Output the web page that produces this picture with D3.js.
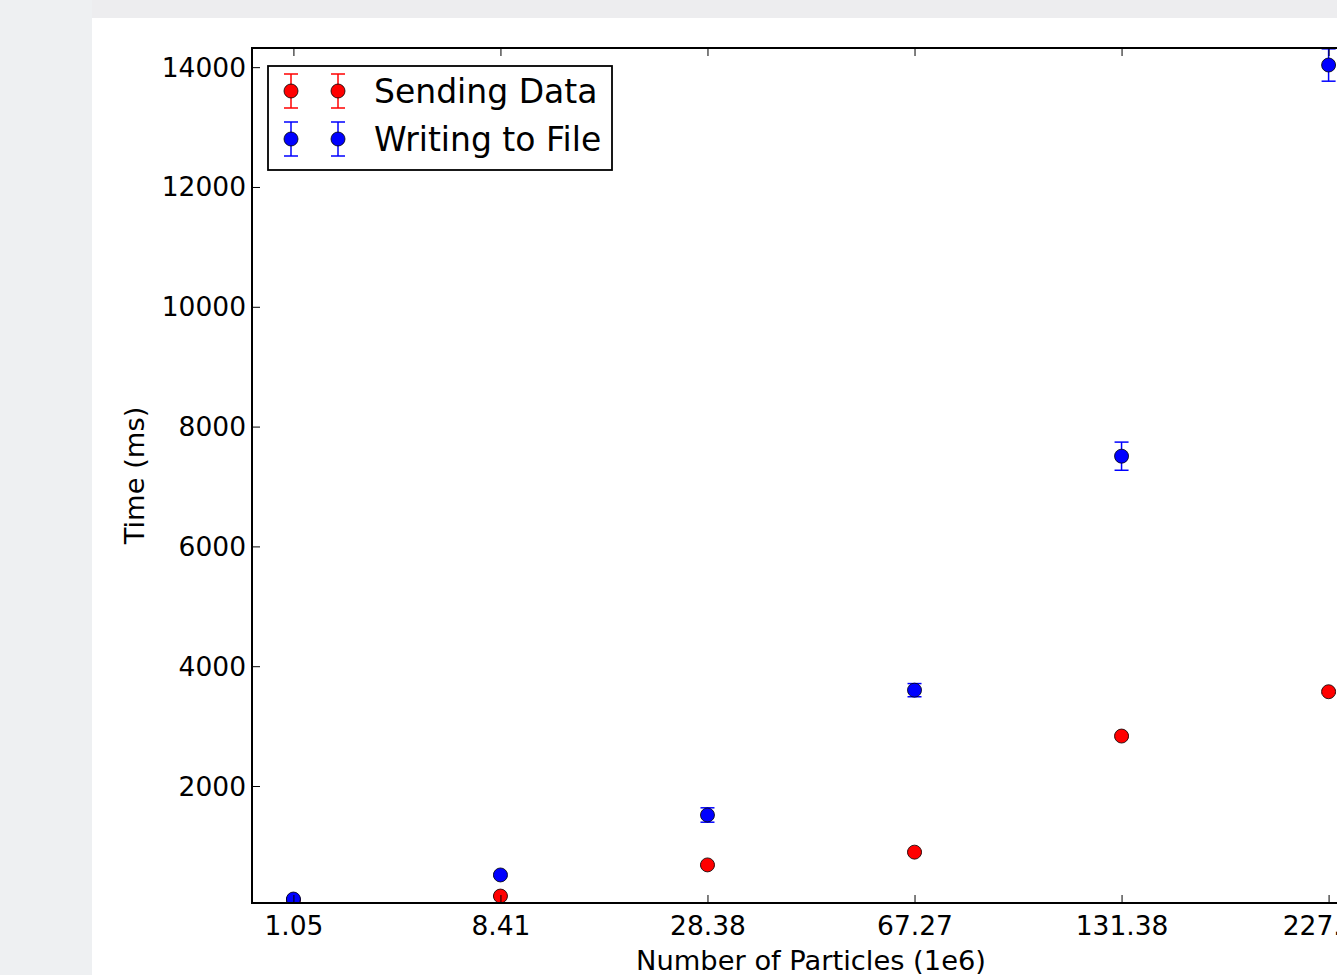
<!DOCTYPE html>
<html>
<head>
<meta charset="utf-8">
<script src="https://cdn.jsdelivr.net/npm/d3@7"></script>
<style>
  html, body { margin: 0; padding: 0; background: #eef0f2; overflow: hidden; }
  svg { display: block; }
  text { font-family: "DejaVu Sans", sans-serif; fill: #000; }
</style>
</head>
<body>
<svg id="chart" width="1337" height="975"></svg>
<script>
// ---- data ----
const categories = ["1.05", "8.41", "28.38", "67.27", "131.38", "227.02"];
const sendingData = [95, 163, 683, 896, 2834, 3574];
const sendingErr = [10, 15, 20, 20, 25, 25];
const writingFile = [113, 515, 1516, 3600, 7506, 14036];
const writingErr = [15, 25, 120, 110, 235, 270];
const yTicks = [2000, 4000, 6000, 8000, 10000, 12000, 14000];
const seriesNames = ["Sending Data", "Writing to File"];
const seriesColors = ["#ff0000", "#0000ff"];

const svg = d3.select("#chart");

// page background: grey slide with white panel
svg.append("rect").attr("x", 0).attr("y", 0).attr("width", 1337).attr("height", 975).attr("fill", "#eef0f2");
svg.append("rect").attr("x", 92).attr("y", 0).attr("width", 1245).attr("height", 18).attr("fill", "#ededef");
svg.append("rect").attr("x", 92).attr("y", 18).attr("width", 1245).attr("height", 957).attr("fill", "#ffffff");

const L = 252, R = 1370, T = 48, B = 903;
const x = d3.scalePoint().domain(categories).range([L, R]).padding(0.2);
const y = d3.scaleLinear().domain([47, 14320]).range([B, T]);

svg.append("defs").append("clipPath").attr("id", "plotclip")
  .append("rect").attr("x", L).attr("y", T).attr("width", R - L).attr("height", B - T);

const plot = svg.append("g").attr("clip-path", "url(#plotclip)");

const series = [
  { name: seriesNames[0], color: seriesColors[0], vals: sendingData, errs: sendingErr },
  { name: seriesNames[1], color: seriesColors[1], vals: writingFile, errs: writingErr }
];

const cap = 7, r = 7;
series.forEach(s => {
  const g = plot.append("g");
  const pts = categories.map((c, i) => ({ c, v: s.vals[i], e: s.errs[i] }));
  g.selectAll("line.eb").data(pts).join("line")
    .attr("x1", d => x(d.c)).attr("x2", d => x(d.c))
    .attr("y1", d => y(d.v - d.e)).attr("y2", d => y(d.v + d.e))
    .attr("stroke", s.color).attr("stroke-width", 1.5);
  g.selectAll("line.ct").data(pts).join("line")
    .attr("x1", d => x(d.c) - cap).attr("x2", d => x(d.c) + cap)
    .attr("y1", d => y(d.v + d.e)).attr("y2", d => y(d.v + d.e))
    .attr("stroke", s.color).attr("stroke-width", 1.5);
  g.selectAll("line.cb").data(pts).join("line")
    .attr("x1", d => x(d.c) - cap).attr("x2", d => x(d.c) + cap)
    .attr("y1", d => y(d.v - d.e)).attr("y2", d => y(d.v - d.e))
    .attr("stroke", s.color).attr("stroke-width", 1.5);
  g.selectAll("circle").data(pts).join("circle")
    .attr("cx", d => x(d.c)).attr("cy", d => y(d.v)).attr("r", r)
    .attr("fill", s.color).attr("stroke", "#000").attr("stroke-width", 0.8);
});

const tickLen = 8;
// bottom axis ticks (inside)
const xAxisB = d3.axisBottom(x).tickSizeInner(-tickLen).tickSizeOuter(0).tickPadding(13);
const gxb = svg.append("g").attr("transform", `translate(0,${B})`).call(xAxisB);
gxb.select(".domain").remove();
gxb.selectAll(".tick line").attr("stroke", "#000").attr("stroke-width", 1);
gxb.selectAll(".tick text").attr("font-size", 26.5).attr("font-family", "DejaVu Sans");
// top ticks
const xAxisT = d3.axisTop(x).tickSizeInner(-tickLen).tickSizeOuter(0).tickFormat("");
const gxt = svg.append("g").attr("transform", `translate(0,${T})`).call(xAxisT);
gxt.select(".domain").remove();
gxt.selectAll(".tick line").attr("stroke", "#000").attr("stroke-width", 1);

// left axis
const yAxisL = d3.axisLeft(y).tickValues(yTicks).tickSizeInner(-tickLen).tickSizeOuter(0).tickPadding(6).tickFormat(d3.format("d"));
const gyl = svg.append("g").attr("transform", `translate(${L},0)`).call(yAxisL);
gyl.select(".domain").remove();
gyl.selectAll(".tick line").attr("stroke", "#000").attr("stroke-width", 1);
gyl.selectAll(".tick text").attr("font-size", 26.5).attr("font-family", "DejaVu Sans").attr("dy", "0.34em");

svg.append("rect").attr("x", L).attr("y", T).attr("width", R - L).attr("height", B - T)
  .attr("fill", "none").attr("stroke", "#000").attr("stroke-width", 2);

// axis labels
svg.append("text").attr("x", (L + R) / 2).attr("y", 970).attr("text-anchor", "middle")
  .attr("font-size", 27.3).text("Number of Particles (1e6)");
svg.append("text").attr("transform", `translate(144,${(T + B) / 2}) rotate(-90)`)
  .attr("text-anchor", "middle").attr("font-size", 27.3).text("Time (ms)");

// legend
const lg = svg.append("g");
lg.append("rect").attr("x", 268).attr("y", 66).attr("width", 344).attr("height", 104)
  .attr("fill", "#fff").attr("stroke", "#000").attr("stroke-width", 1.8);
series.forEach((s, i) => {
  const cy = 91 + i * 48;
  [291, 338].forEach(cx => {
    lg.append("line").attr("x1", cx).attr("x2", cx).attr("y1", cy - 17).attr("y2", cy + 17)
      .attr("stroke", s.color).attr("stroke-width", 1.5);
    lg.append("line").attr("x1", cx - cap).attr("x2", cx + cap).attr("y1", cy - 17).attr("y2", cy - 17)
      .attr("stroke", s.color).attr("stroke-width", 1.5);
    lg.append("line").attr("x1", cx - cap).attr("x2", cx + cap).attr("y1", cy + 17).attr("y2", cy + 17)
      .attr("stroke", s.color).attr("stroke-width", 1.5);
    lg.append("circle").attr("cx", cx).attr("cy", cy).attr("r", r)
      .attr("fill", s.color).attr("stroke", "#000").attr("stroke-width", 0.8);
  });
  lg.append("text").attr("x", 374).attr("y", cy + 12).attr("font-size", 33).text(s.name);
});
</script>
</body>
</html>
